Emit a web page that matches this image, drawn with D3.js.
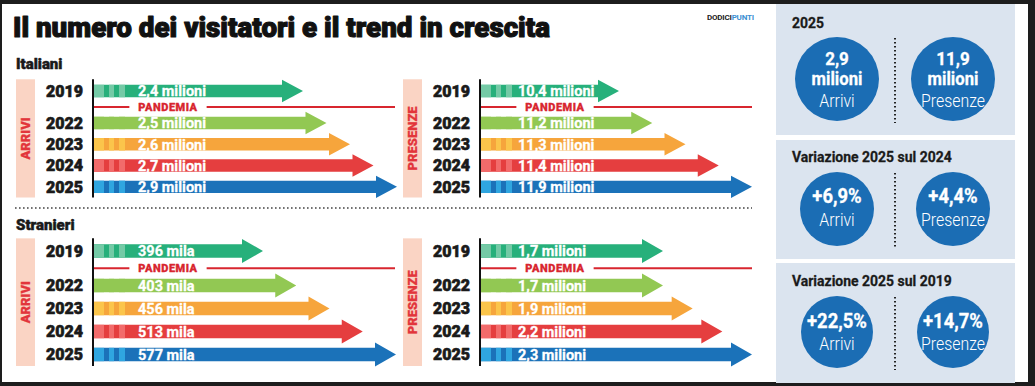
<!DOCTYPE html>
<html>
<head>
<meta charset="utf-8">
<script src="https://cdn.jsdelivr.net/npm/d3@7"></script>
<style>
	body{margin:0;background:#fff}
	svg{display:block;font-family:Roboto,'DejaVu Sans',sans-serif}
</style>
</head>
<body>
<svg id="chart" width="1035" height="386"></svg>
<script>
const years = ['2019','2022','2023','2024','2025']
const ita_arrivi = [2.4,2.5,2.6,2.7,2.9]
const ita_presenze = [10.4,11.2,11.3,11.4,11.9]
const str_arrivi = [396,403,456,513,577]
const str_presenze = [1.7,1.7,1.9,2.2,2.3]

const box_titles = ['2025','Variazione 2025 sul 2024','Variazione 2025 sul 2019']
const box_arrivi = ['2,9','+6,9%','+22,5%']
const box_presenze = ['11,9','+4,4%','+14,7%']
const box_unit = ['milioni','','']

/*colours: [main, light stripe]*/
const year_colors = {
	'2019':['#27b07b','#74caa6'],
	'2022':['#92c853','#92c853'],
	'2023':['#f6a53c','#fbc54b'],
	'2024':['#e53e3f','#f26b6b'],
	'2025':['#1b72b9','#2fa6e0']
}
const red = '#d8262f'
const pink = '#fad4c4'

const it = d3.formatLocale({decimal:',',thousands:'.',grouping:[3],currency:['€','']})
const fmt_mil = v => it.format('.1f')(v) + ' milioni'
const fmt_mila = v => it.format('d')(v) + ' mila'

const squeeze = (sel,k)=>sel.each(function(){
	const w = this.getComputedTextLength()
	d3.select(this).attr('textLength',w*k).attr('lengthAdjust','spacingAndGlyphs')
})

// fake a heavier weight, the black cut is not installed
const heavy = (sel,w)=>sel.attr('stroke',sel.attr('fill')).attr('stroke-width',w).attr('stroke-linejoin','round')

const svg = d3.select('#chart')

/*frame*/
svg.append('rect').attr('width',1035).attr('height',386).attr('fill','#1d1d1d')
svg.append('rect').attr('x',2).attr('y',4).attr('width',1026).attr('height',378).attr('fill','#fff')

svg.append('text')
	.attr('x',13).attr('y',37)
	.attr('font-size',28).attr('font-weight',900).attr('fill','#111')
	.text('Il numero dei visitatori e il trend in crescita')
	.attr('textLength',537).attr('lengthAdjust','spacingAndGlyphs')
	.call(heavy,1.1)

const brand = svg.append('text')
	.attr('x',707).attr('y',20)
	.attr('font-size',8).attr('font-weight',700)
	.attr('letter-spacing',-0.2)
brand.append('tspan').attr('fill','#222').text('DODICI')
brand.append('tspan').attr('fill','#3b8fd2').text('PUNTI')

/*sections and panels*/
const sections = [
	{name:'Italiani', name_y:69, y0:91, step:21.3},
	{name:'Stranieri', name_y:230, y0:251, step:23}
]
const sides = [
	{axis:93, label:'ARRIVI', txt:44},
	{axis:480, label:'PRESENZE', txt:37}
]
const panels = [
	{sec:0, side:0, values:ita_arrivi, fmt:fmt_mil, len:[209,303]},
	{sec:0, side:1, values:ita_presenze, fmt:fmt_mil, len:[138,271]},
	{sec:1, side:0, values:str_arrivi, fmt:fmt_mila, len:[169,302]},
	{sec:1, side:1, values:str_presenze, fmt:fmt_mil, len:[182,271]}
]

const slot = i => i === 0 ? 0 : i + 0.5

const arrow_path = (len,sh,hh,hl)=>{
	const p = d3.path()
	p.moveTo(0,-sh/2)
	p.lineTo(len-hl,-sh/2)
	p.lineTo(len-hl,-hh/2)
	p.lineTo(len,0)
	p.lineTo(len-hl,hh/2)
	p.lineTo(len-hl,sh/2)
	p.lineTo(0,sh/2)
	p.closePath()
	return p.toString()
}

sections.forEach(s=>{
	svg.append('text')
		.attr('x',16).attr('y',s.name_y)
		.attr('font-size',15).attr('font-weight',900).attr('fill','#1a1a1a')
		.text(s.name)
		.call(heavy,0.5)
})

panels.forEach(p=>{
	const s = sections[p.sec]
	const side = sides[p.side]
	const x0 = side.axis + 1

	const yScale = d3.scaleLinear()
		.domain([0,1])
		.range([s.y0,s.y0 + s.step])

	// arrows ranked by value, the graphic is not drawn to a linear scale
	const xScale = d3.scalePoint()
		.domain(Array.from(new Set(p.values)).sort(d3.ascending))
		.range(p.len)

	const top = yScale(-0.55)
	const bottom = yScale(slot(years.length - 1) + 0.5)

	const g = svg.append('g')

	g.append('rect')
		.attr('x',side.axis - 77).attr('y',top)
		.attr('width',19).attr('height',bottom - top)
		.attr('fill',pink)

	g.append('text')
		.attr('transform',`translate(${side.axis - 67.5},${(top + bottom)/2}) rotate(-90)`)
		.attr('text-anchor','middle').attr('dy','0.36em')
		.attr('font-size',13).attr('font-weight',900).attr('fill','#e2353b')
		.text(side.label)
		.call(heavy,0.3)

	g.selectAll('.year')
		.data(years)
		.enter()
		.append('text')
		.classed('year',true)
		.attr('x',side.axis - 10)
		.attr('y',(d,i)=>yScale(slot(i)))
		.attr('dy','0.36em')
		.attr('text-anchor','end')
		.attr('font-size',16).attr('font-weight',900).attr('fill','#1a1a1a')
		.text(d=>d)
		.call(heavy,0.6)

	const sh = s.step*0.58
	const hh = s.step*1.05

	const rows = g.selectAll('.row')
		.data(years.map((y,i)=>({year:y, value:p.values[i], i:i})))
		.enter()
		.append('g')
		.classed('row',true)
		.attr('transform',d=>`translate(${x0},${yScale(slot(d.i))})`)

	rows.append('path')
		.attr('d',d=>arrow_path(xScale(d.value),sh,hh,21))
		.attr('fill',d=>year_colors[d.year][0])

	rows.selectAll('.stripe')
		.data(d=>[[0,10],[15,20],[25,31]].map(e=>({e:e, year:d.year})))
		.enter()
		.append('rect')
		.classed('stripe',true)
		.attr('x',d=>d.e[0])
		.attr('y',-sh/2)
		.attr('width',d=>d.e[1] - d.e[0])
		.attr('height',sh)
		.attr('fill',d=>year_colors[d.year][1])

	rows.append('text')
		.attr('x',side.txt)
		.attr('dy','0.37em')
		.attr('font-size',14.5).attr('font-weight',700).attr('fill','#fff')
		.text(d=>p.fmt(d.value))
		.call(heavy,0.3)

	/*pandemia line*/
	const py = yScale(0.75)
	const ptext = g.append('text')
		.attr('x',x0 + 74).attr('y',py)
		.attr('dy','0.36em')
		.attr('text-anchor','middle')
		.attr('font-size',11).attr('font-weight',900).attr('fill',red)
		.attr('letter-spacing',0.5)
		.text('PANDEMIA')
		.call(heavy,0.3)
	const tw = ptext.node().getComputedTextLength()
	const line_end = p.side === 0 ? 395 : 752
	g.insert('line','text')
		.attr('x1',x0).attr('x2',x0 + 74 - tw/2 - 9)
		.attr('y1',py).attr('y2',py)
		.attr('stroke',red).attr('stroke-width',1.8)
	g.insert('line','text')
		.attr('x1',x0 + 74 + tw/2 + 9).attr('x2',line_end)
		.attr('y1',py).attr('y2',py)
		.attr('stroke',red).attr('stroke-width',1.8)

	g.append('line')
		.attr('x1',side.axis).attr('x2',side.axis)
		.attr('y1',top).attr('y2',bottom)
		.attr('stroke','#111').attr('stroke-width',2)
})

/*dotted separator*/
svg.append('line')
	.attr('x1',15).attr('x2',752)
	.attr('y1',208).attr('y2',208)
	.attr('stroke','#444').attr('stroke-width',1.6)
	.attr('stroke-dasharray','1.6,2.4')

/*side boxes*/
const boxes = [
	{y:4, h:131, cy:79, r:42, title_y:28, lines:[-14,6,28]},
	{y:140, h:119, cy:209, r:37, title_y:162, lines:[-6,null,17]},
	{y:263, h:120, cy:332, r:36, title_y:286, lines:[-4,null,18]}
]
const circle_x = [837,953]

const box = svg.selectAll('.box')
	.data(boxes.map((b,i)=>Object.assign({title:box_titles[i], vals:[box_arrivi[i],box_presenze[i]], unit:box_unit[i]},b)))
	.enter()
	.append('g')
	.classed('box',true)

box.append('rect')
	.attr('x',776).attr('y',d=>d.y)
	.attr('width',239).attr('height',d=>d.h)
	.attr('fill','#dbe4ef')

box.append('text')
	.attr('x',792).attr('y',d=>d.title_y)
	.attr('font-size',15.5).attr('font-weight',700).attr('fill','#1a1a1a')
	.text(d=>d.title)
	.call(squeeze,0.9)
	.call(heavy,0.3)

box.append('line')
	.attr('x1',895).attr('x2',895)
	.attr('y1',d=>d.cy - d.r + 1).attr('y2',d=>d.cy + d.r + 2)
	.attr('stroke','#222').attr('stroke-width',2)
	.attr('stroke-dasharray','1.5,2.5')

const bubble = box.selectAll('.bubble')
	.data(d=>d.vals.map((v,j)=>({v:v, j:j, b:d})))
	.enter()
	.append('g')
	.classed('bubble',true)
	.attr('transform',d=>`translate(${circle_x[d.j]},${d.b.cy})`)

bubble.append('circle')
	.attr('r',d=>d.b.r)
	.attr('fill','#1b6db4')

bubble.append('text')
	.attr('y',d=>d.b.lines[0])
	.attr('text-anchor','middle')
	.attr('font-size',d=>d.b.unit !== '' ? 18.5 : 20).attr('font-weight',700).attr('fill','#fff')
	.text(d=>d.v)
	.call(squeeze,0.92)
	.call(heavy,0.3)

bubble.filter(d=>d.b.unit !== '')
	.append('text')
	.attr('y',d=>d.b.lines[1])
	.attr('text-anchor','middle')
	.attr('font-size',18.5).attr('font-weight',700).attr('fill','#fff')
	.text(d=>d.b.unit)
	.call(squeeze,0.9)
	.call(heavy,0.3)

bubble.append('text')
	.attr('y',d=>d.b.lines[2])
	.attr('text-anchor','middle')
	.attr('font-size',18).attr('font-weight',300).attr('fill','#fff')
	.text(d=>d.j === 0 ? 'Arrivi' : 'Presenze')
	.call(squeeze,0.88)
</script>
</body>
</html>
